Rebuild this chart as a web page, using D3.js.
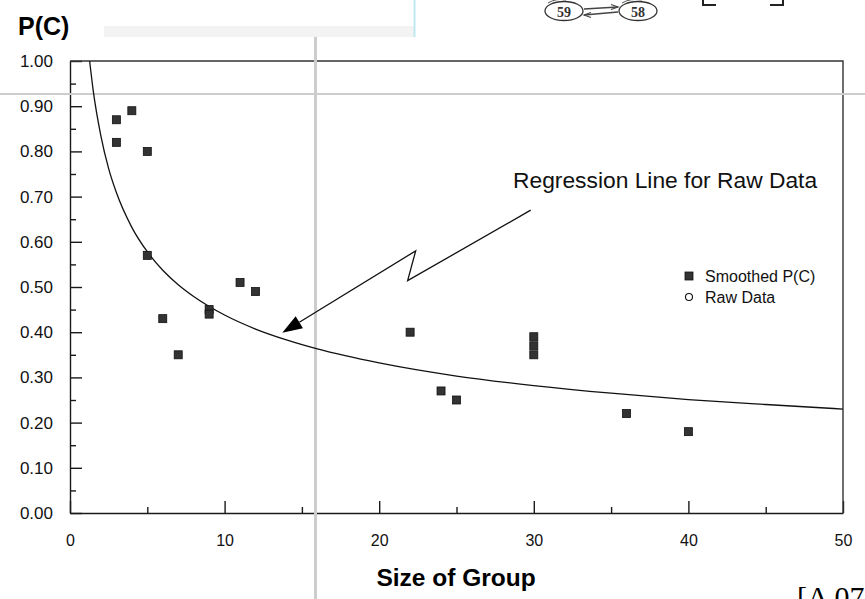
<!DOCTYPE html>
<html><head><meta charset="utf-8">
<script src="https://cdn.jsdelivr.net/npm/d3@7"></script>
<style>body{margin:0;background:#fff;overflow:hidden} svg{display:block}</style>
</head><body><svg id="c" width="865" height="599"></svg>
<script>
// ---- data ----
const smoothedX = [3, 3, 4, 5, 5, 6, 7, 9, 9, 11, 12, 22, 24, 25, 30, 30, 30, 36, 40];
const smoothedY = [0.87, 0.82, 0.89, 0.80, 0.57, 0.43, 0.35, 0.45, 0.44, 0.51, 0.49, 0.40, 0.27, 0.25, 0.39, 0.37, 0.35, 0.22, 0.18];
const regressionX = [1.27, 1.5, 2, 2.5, 3, 4, 5, 6, 7, 8, 10, 12, 14, 16, 20, 25, 30, 35, 40, 45, 50];
const regressionY = [1.0, 0.935, 0.834, 0.762, 0.709, 0.632, 0.578, 0.537, 0.505, 0.479, 0.438, 0.407, 0.383, 0.363, 0.332, 0.303, 0.282, 0.265, 0.251, 0.240, 0.230];
const xTickValues = [0, 10, 20, 30, 40, 50];
const xMinorValues = [5, 15, 25, 35, 45];
const yTickValues = [0, 0.1, 0.2, 0.3, 0.4, 0.5, 0.6, 0.7, 0.8, 0.9, 1.0];
const yMinorValues = [0.05, 0.15, 0.25, 0.35, 0.45, 0.55, 0.65, 0.75, 0.85, 0.95];
const legendLabels = ["Smoothed P(C)", "Raw Data"];
const annotationText = "Regression Line for Raw Data";
const annotationX = [29.8, 21.84, 22.36, 13.73];   // zig-zag arrow, data units
const annotationY = [0.67, 0.514, 0.58, 0.399];
const yTitle = "P(C)";
const xTitle = "Size of Group";

const svg = d3.select("#c");
const FONT = "Arial, 'Liberation Sans', sans-serif";
const x = d3.scaleLinear().domain([0, 50]).range([70, 843]);
const y = d3.scaleLinear().domain([0, 1]).range([513, 61]);

// ---- scanned-page background elements ----
const bg = svg.append("g");
bg.append("rect").attr("x", 104).attr("y", 23).attr("width", 311).attr("height", 14).attr("fill", "#f3f3f3");
bg.append("rect").attr("x", 104).attr("y", -2).attr("width", 311).attr("height", 28).attr("fill", "#fff");
bg.append("line").attr("x1", 414.5).attr("x2", 414.5).attr("y1", 0).attr("y2", 37).attr("stroke", "#bfe9f2").attr("stroke-width", 2);

// sketch at top right
const sk = bg.append("g").attr("font-family", "'Liberation Serif', serif").attr("font-weight", "bold");
[[564, "59"], [638, "58"]].forEach(([cx, t]) => {
  sk.append("ellipse").attr("cx", cx).attr("cy", 11).attr("rx", 19).attr("ry", 9.5).attr("fill", "none").attr("stroke", "#333").attr("stroke-width", 1.3);
  sk.append("text").attr("x", cx).attr("y", 16.5).attr("text-anchor", "middle").attr("font-size", 14).attr("fill", "#333").text(t);
});
sk.append("path").attr("d", "M584,9 L618,7").attr("stroke", "#444").attr("stroke-width", 1.4).attr("fill", "none");
sk.append("path").attr("d", "M611,4.5 L618,7 L611,9.5").attr("stroke", "#444").attr("stroke-width", 1.2).attr("fill", "none");
sk.append("path").attr("d", "M618,12 L584,15").attr("stroke", "#444").attr("stroke-width", 1.4).attr("fill", "none");
sk.append("path").attr("d", "M591,12.5 L584,15 L591,17.5").attr("stroke", "#444").attr("stroke-width", 1.2).attr("fill", "none");
sk.append("path").attr("d", "M548,3 Q556,-2 566,0 M622,3 Q630,-2 642,0").attr("stroke", "#555").attr("fill", "none");
sk.append("path").attr("d", "M703,0 L703,5 L716,5 M770,5 L783,5 L783,0").attr("stroke", "#222").attr("stroke-width", 2).attr("fill", "none");

// ---- axes ----
const axisColor = "#1a1a1a";
const gy = svg.append("g").attr("transform", `translate(${x(0)},0)`)
  .call(d3.axisLeft(y).tickValues(yTickValues).tickFormat(d3.format(".2f")).tickSize(-12).tickSizeOuter(0).tickPadding(17));
const gyMinor = svg.append("g").attr("transform", `translate(${x(0)},0)`)
  .call(d3.axisLeft(y).tickValues(yMinorValues).tickFormat("").tickSize(-6).tickSizeOuter(0));
gyMinor.select(".domain").remove();
const gx = svg.append("g").attr("transform", `translate(0,${y(0)})`)
  .call(d3.axisBottom(x).tickValues(xTickValues).tickFormat(d3.format("d")).tickSize(-12).tickSizeOuter(0).tickPadding(22));
const gxMinor = svg.append("g").attr("transform", `translate(0,${y(0)})`)
  .call(d3.axisBottom(x).tickValues(xMinorValues).tickFormat("").tickSize(-6).tickSizeOuter(0));
gxMinor.select(".domain").remove();
[gy, gyMinor, gx, gxMinor].forEach(g => {
  g.selectAll("path,line").attr("stroke", axisColor).attr("stroke-width", 1.4);
  g.selectAll("text").attr("font-family", FONT).attr("font-size", 16).attr("fill", "#111");
});
gy.selectAll("text").attr("font-size", 17);

// frame top & right
svg.append("path").attr("d", `M${x(0)},${y(1)} H${x(50)} V${y(0)}`)
  .attr("fill", "none").attr("stroke", "#333").attr("stroke-width", 1.4);

// gray scan lines
svg.append("line").attr("x1", 0).attr("x2", 865).attr("y1", 94).attr("y2", 94).attr("stroke", "#cdcdcd").attr("stroke-width", 2);
svg.append("line").attr("x1", 315.5).attr("x2", 315.5).attr("y1", 37).attr("y2", 599).attr("stroke", "#cdcdcd").attr("stroke-width", 3);

// ---- regression curve ----
const curvePts = regressionX.map((d, i) => [d, regressionY[i]]);
svg.append("path").datum(curvePts)
  .attr("d", d3.line().x(d => x(d[0])).y(d => y(d[1])).curve(d3.curveMonotoneX))
  .attr("fill", "none").attr("stroke", "#111").attr("stroke-width", 1.3);

// ---- smoothed points ----
const pts = smoothedX.map((d, i) => [d, smoothedY[i]]);
svg.append("g").selectAll("rect").data(pts).join("rect")
  .attr("x", d => x(d[0]) - 4).attr("y", d => y(d[1]) - 4)
  .attr("width", 8).attr("height", 8)
  .attr("fill", "#333").attr("stroke", "#111").attr("stroke-width", 0.8);

// ---- annotation arrow ----
const ann = annotationX.map((d, i) => [x(d), y(annotationY[i])]);
const tip = ann[ann.length - 1], prev = ann[ann.length - 2];
const ang = Math.atan2(tip[1] - prev[1], tip[0] - prev[0]);
const headLen = 20, headW = 7;
const base = [tip[0] - headLen * Math.cos(ang), tip[1] - headLen * Math.sin(ang)];
const lineEnd = ann.slice(0, -1).concat([base]);
svg.append("path").attr("d", d3.line()(lineEnd)).attr("fill", "none").attr("stroke", "#111").attr("stroke-width", 1.3);
const nx = -Math.sin(ang), ny = Math.cos(ang);
svg.append("path").attr("d", d3.line()([tip, [base[0] + nx * headW, base[1] + ny * headW], [base[0] - nx * headW, base[1] - ny * headW]]) + "Z")
  .attr("fill", "#000");
svg.append("text").attr("x", 513).attr("y", 188).attr("font-family", FONT).attr("font-size", 22.8).attr("fill", "#111").text(annotationText);

// ---- legend ----
const lg = svg.append("g").attr("font-family", FONT).attr("font-size", 16).attr("fill", "#111");
lg.append("rect").attr("x", 685).attr("y", 272).attr("width", 8).attr("height", 8).attr("fill", "#333").attr("stroke", "#111").attr("stroke-width", 0.8);
lg.append("circle").attr("cx", 689).attr("cy", 297).attr("r", 3.5).attr("fill", "#fff").attr("stroke", "#111").attr("stroke-width", 1.1);
lg.selectAll("text").data(legendLabels).join("text")
  .attr("x", 705).attr("y", (d, i) => 282 + i * 21).text(d => d);

// ---- titles ----
svg.append("text").attr("x", 18).attr("y", 35).attr("font-family", FONT).attr("font-weight", "bold").attr("font-size", 25).attr("fill", "#000").text(yTitle);
svg.append("text").attr("x", 456).attr("y", 586).attr("text-anchor", "middle").attr("font-family", FONT).attr("font-weight", "bold").attr("font-size", 24.5).attr("fill", "#000").text(xTitle);
svg.append("text").attr("x", 797).attr("y", 607).attr("font-family", "'Liberation Serif', serif").attr("font-size", 30).attr("fill", "#000").text("[A 07");
</script></body></html>
